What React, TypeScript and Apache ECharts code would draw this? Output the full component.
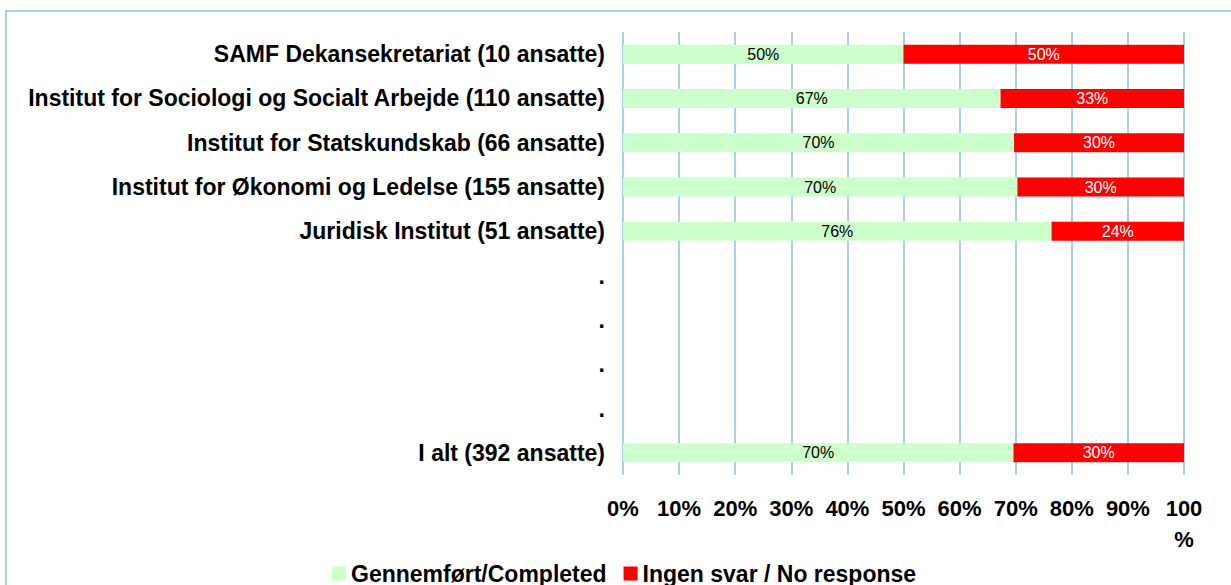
import React, { useEffect, useRef } from "react";
import * as echarts from "echarts";

const categories = [
  "SAMF Dekansekretariat (10 ansatte)",
  "Institut for Sociologi og Socialt Arbejde (110 ansatte)",
  "Institut for Statskundskab (66 ansatte)",
  "Institut for Økonomi og Ledelse (155 ansatte)",
  "Juridisk Institut (51 ansatte)",
  ".",
  ". ",
  ".  ",
  ".   ",
  "I alt (392 ansatte)",
];
const completed = [50, 67.3, 69.7, 70.3, 76.4, null, null, null, null, 69.6];
const noResponse = [50, 32.7, 30.3, 29.7, 23.6, null, null, null, null, 30.4];
const seriesNames = ["Gennemført/Completed", "Ingen svar / No response"];

const FONT = '"Liberation Sans", Arial, sans-serif';

export default function App() {
  const ref = useRef<HTMLDivElement>(null);
  useEffect(() => {
    const chart = echarts.init(ref.current!, null, { renderer: "svg" });
    const labelFmt = (p: any) =>
      p.value == null ? "" : Math.round(p.value) + "%";
    chart.setOption({
      animation: false,
      backgroundColor: "#ffffff",
      textStyle: { fontFamily: FONT },
      graphic: [
        {
          type: "rect",
          shape: { x: 6, y: 11, width: 1400, height: 800 },
          style: { fill: "none", stroke: "#a8cff8", lineWidth: 2 },
          silent: true,
        },
      ],
      grid: { left: 623, right: 47, top: 32, bottom: 110, containLabel: false },
      legend: {
        left: 332,
        top: 562,
        itemWidth: 14,
        itemHeight: 14,
        itemGap: 17,
        icon: "rect",
        padding: 0,
        textStyle: {
          fontFamily: FONT,
          fontSize: 23,
          lineHeight: 23,
          fontWeight: "bold",
          color: "#000",
        },
        data: seriesNames,
      },
      xAxis: {
        type: "value",
        min: 0,
        max: 100,
        interval: 10,
        axisLine: { show: false },
        axisTick: { show: false },
        splitLine: { show: true, lineStyle: { color: "#a8cff8", width: 2 } },
        axisLabel: {
          formatter: (v: number) => (v === 100 ? "100\n%" : v + "%"),
          fontFamily: FONT,
          fontSize: 22,
          fontWeight: "bold",
          color: "#000",
          lineHeight: 31,
          margin: 18,
        },
      },
      yAxis: {
        type: "category",
        inverse: true,
        data: categories,
        axisLine: { show: false },
        axisTick: { show: false },
        splitLine: { show: false },
        axisLabel: {
          fontFamily: FONT,
          fontSize: 23,
          fontWeight: "bold",
          color: "#000",
          margin: 18,
          formatter: (v: string) => v.trim(),
        },
      },
      series: [
        {
          name: seriesNames[0],
          type: "bar",
          stack: "total",
          barWidth: 19,
          data: completed,
          itemStyle: { color: "#ccffcc" },
          label: {
            show: true,
            position: "inside",
            formatter: labelFmt,
            fontFamily: FONT,
            fontSize: 16,
            color: "#000",
          },
        },
        {
          name: seriesNames[1],
          type: "bar",
          stack: "total",
          barWidth: 19,
          data: noResponse,
          itemStyle: { color: "#ff0000" },
          label: {
            show: true,
            position: "inside",
            formatter: labelFmt,
            fontFamily: FONT,
            fontSize: 16,
            color: "#fff",
          },
        },
      ],
    });
    return () => chart.dispose();
  }, []);
  return (
    <div
      ref={ref}
      style={{ position: "fixed", left: 0, top: 0, width: 1231, height: 585 }}
    />
  );
}
